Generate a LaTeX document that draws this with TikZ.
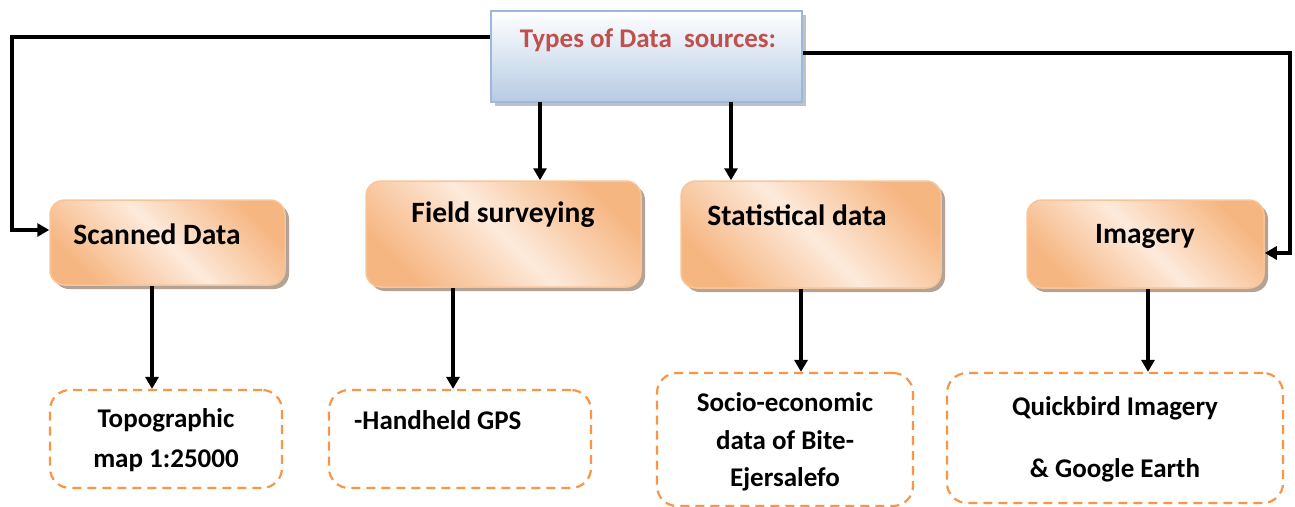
\documentclass[tikz,border=0pt]{standalone}
\usepackage{fontspec}
\setmainfont{Carlito}
\usetikzlibrary{arrows.meta,shadows}
\definecolor{ordark}{HTML}{F6B682}
\definecolor{orlight}{HTML}{FDEADB}
\definecolor{orborder}{HTML}{F8C49A}
\definecolor{dashor}{HTML}{F79646}
\definecolor{bluetop}{HTML}{FFFFFF}
\definecolor{bluebot}{HTML}{B6CBE4}
\definecolor{blueborder}{HTML}{9CB9DC}
\definecolor{titlered}{HTML}{C0504D}
\definecolor{shadowbrown}{HTML}{A08C7C}
\tikzset{
  orbox/.style={draw=orborder, line width=1.5pt, rounded corners=15pt,
    left color=ordark, right color=ordark, middle color=orlight, shading angle=135,
    drop shadow={shadow xshift=4pt, shadow yshift=-4pt, fill=shadowbrown, opacity=0.8}},
  dbox/.style={draw=dashor, line width=2.2pt, dash pattern=on 9pt off 6pt, rounded corners=20pt, fill=white},
  topbox/.style={draw=blueborder, line width=1.5pt, top color=bluetop, bottom color=bluebot,
    drop shadow={shadow xshift=4pt, shadow yshift=-4pt, fill=gray!60, opacity=0.8}},
  conn/.style={line width=3.5pt, draw=black},
  arr/.style={conn, -{Triangle[length=12pt,width=13pt]}},
  big/.style={font=\bfseries\fontsize{29.5}{34}\selectfont, inner sep=0pt},
  small/.style={font=\bfseries\fontsize{27}{40}\selectfont, inner sep=0pt},
}
\begin{document}
\begin{tikzpicture}[x=1pt,y=-1pt]
\useasboundingbox (0,0) rectangle (1295,506);
% top box
\node[topbox, minimum width=311pt, minimum height=91pt] (top) at (646.5,56.5) {};
\node[font=\bfseries\fontsize{27}{32}\selectfont, text=titlered, inner sep=0pt] (toptext) at (648,40) {Types of Data\ \ sources:};
% orange boxes
\node[orbox, minimum width=235pt, minimum height=85pt] (scan) at (167.5,242.5) {};
\node[big] (scant) at (157,234) {Scanned Data};
\node[orbox, minimum width=275pt, minimum height=106pt] (field) at (503.5,234) {};
\node[big] (fieldt) at (503,215) {Field surveying};
\node[orbox, minimum width=260pt, minimum height=107pt] (stat) at (811,234.5) {};
\node[big] (statt) at (797,215) {Statistical data};
\node[orbox, minimum width=237pt, minimum height=88pt] (img) at (1145.5,244) {};
\node[big] (imgt) at (1145,236) {Imagery};
% dashed boxes
\node[dbox, minimum width=232pt, minimum height=98pt] (topo) at (166,439) {};
\node[small, align=center] (topot) at (166,440) {Topographic\\map 1:25000};
\node[dbox, minimum width=262pt, minimum height=98pt] (gps) at (460,439) {};
\node[small, anchor=west] (gpst) at (354,420) {-Handheld GPS};
\node[dbox, minimum width=256pt, minimum height=133pt] (socio) at (785,439.5) {};
\node[small, align=center, font=\bfseries\fontsize{27}{37.5}\selectfont] (sociot) at (785,442) {Socio-economic\\data of Bite-\\Ejersalefo};
\node[dbox, minimum width=336pt, minimum height=130pt] (quick) at (1115,438) {};
\node[small, align=center, font=\bfseries\fontsize{27}{62}\selectfont] (quickt) at (1115,439) {Quickbird Imagery\\\& Google Earth};
% connectors
\coordinate (lc1) at (12,37);
\coordinate (lc2) at (12,230);
\coordinate (rc1) at (1290,53);
\coordinate (rc2) at (1290,253);
\draw[arr] (top.west |- lc1) -- (lc1) -- (lc2) -- (scan.west |- lc2);
\draw[arr] (top.east |- rc1) -- (rc1) -- (rc2) -- (img.east |- rc2);
\coordinate (d1) at (540,102);
\draw[arr] (d1) -- (d1 |- field.north);
\coordinate (d2) at (731,102);
\draw[arr] (d2) -- (d2 |- stat.north);
\coordinate (v1) at (152,0);
\draw[arr] (scan.south -| v1) -- (topo.north -| v1);
\coordinate (v2) at (453,0);
\draw[arr] (field.south -| v2) -- (gps.north -| v2);
\coordinate (v3) at (801,0);
\draw[arr] (stat.south -| v3) -- (socio.north -| v3);
\coordinate (v4) at (1148,0);
\draw[arr] (img.south -| v4) -- (quick.north -| v4);
\end{tikzpicture}
\end{document}
